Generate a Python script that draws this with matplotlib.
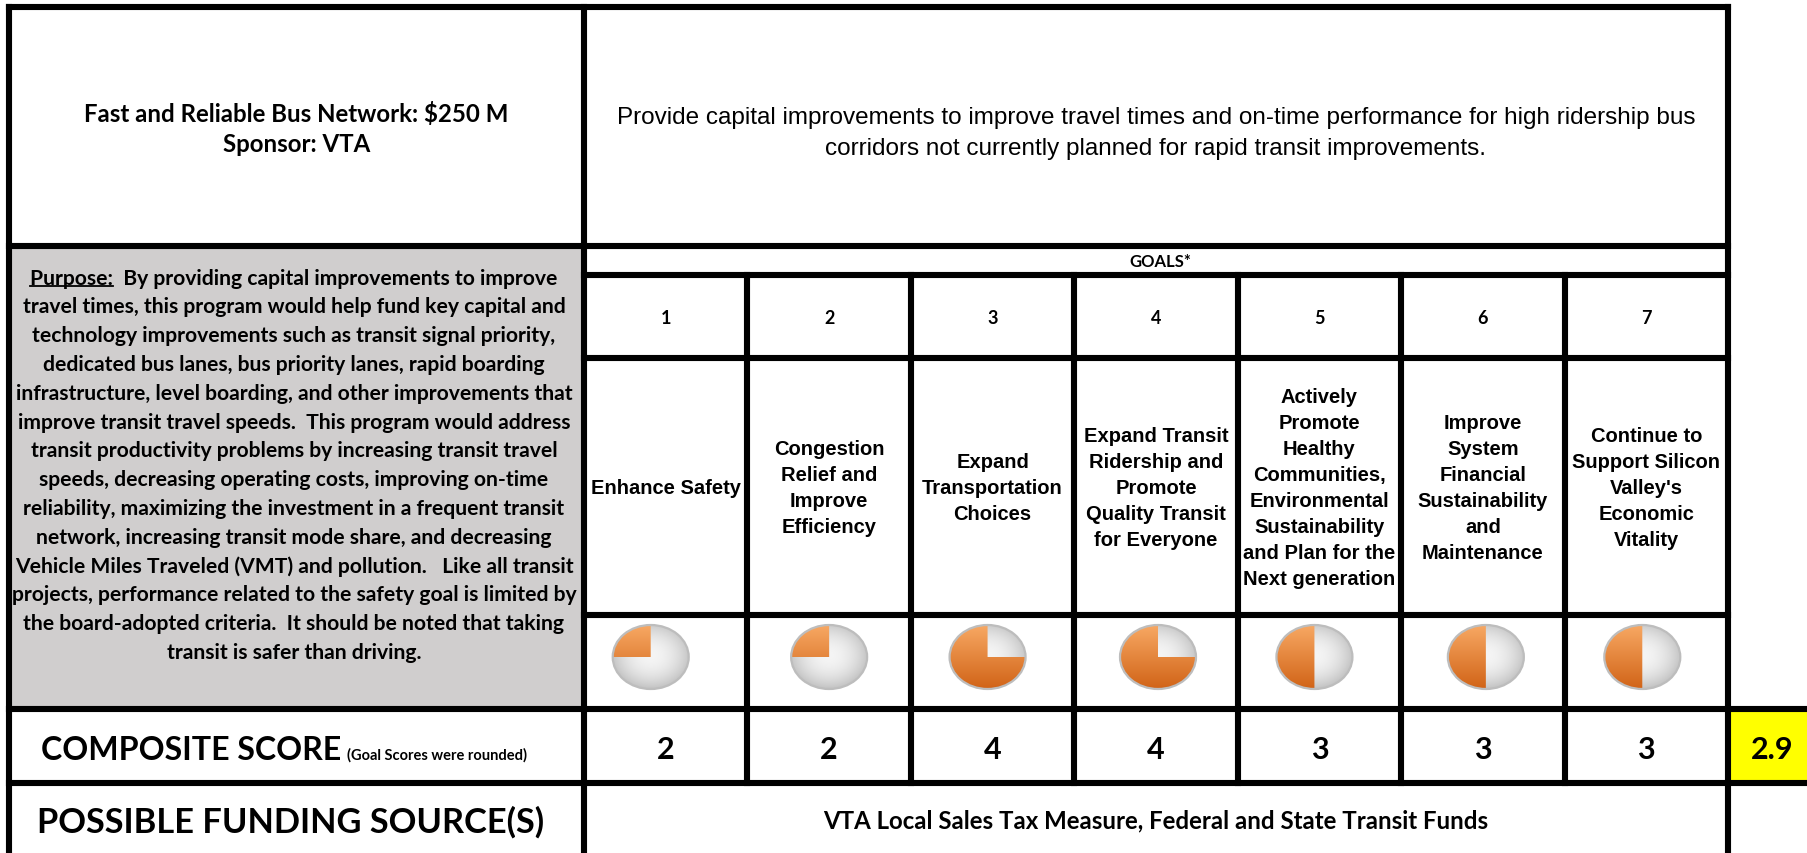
import matplotlib
matplotlib.use("Agg")
import matplotlib.pyplot as plt
import numpy as np
from matplotlib.patches import Rectangle, Polygon, Ellipse

# ---- content ----
title_lines = ["Fast and Reliable Bus Network: $250 M", "Sponsor: VTA"]
description_lines = [
    "Provide capital improvements to improve travel times and on-time performance for high ridership bus",
    "corridors not currently planned for rapid transit improvements.",
]
purpose_lines = [
    "Purpose:  By providing capital improvements to improve",
    "travel times, this program would help fund key capital and",
    "technology improvements such as transit signal priority,",
    "dedicated bus lanes, bus priority lanes, rapid boarding",
    "infrastructure, level boarding, and other improvements that",
    "improve transit travel speeds.  This program would address",
    "transit productivity problems by increasing transit travel",
    "speeds, decreasing operating costs, improving on-time",
    "reliability, maximizing the investment in a frequent transit",
    "network, increasing transit mode share, and decreasing",
    "Vehicle Miles Traveled (VMT) and pollution.   Like all transit",
    "projects, performance related to the safety goal is limited by",
    "the board-adopted criteria.  It should be noted that taking",
    "transit is safer than driving.",
]
goal_numbers = ["1", "2", "3", "4", "5", "6", "7"]
goal_labels = [
    "Enhance Safety",
    "Congestion\nRelief and\nImprove\nEfficiency",
    "Expand\nTransportation\nChoices",
    "Expand Transit\nRidership and\nPromote\nQuality Transit\nfor Everyone",
    "Actively\nPromote\nHealthy\nCommunities,\nEnvironmental\nSustainability\nand Plan for the\nNext generation",
    "Improve\nSystem\nFinancial\nSustainability\nand\nMaintenance",
    "Continue to\nSupport Silicon\nValley's\nEconomic\nVitality",
]
goal_scores = [2, 2, 4, 4, 3, 3, 3]
pie_fill = [0.25, 0.25, 0.75, 0.75, 0.5, 0.5, 0.5]
composite_score = 2.9
funding_text = "VTA Local Sales Tax Measure, Federal and State Transit Funds"

# ---- layout (pixels) ----
W, H = 1808, 854
x_left, x_mid, x_right = 9, 584, 1728
y_top, y_sec, y_goals, y_nums, y_labels, y_pies, y_comp = 8, 247, 275.5, 358.5, 616, 710, 784
col_edges = np.linspace(x_mid, x_right, 8)
col_centers = (col_edges[:-1] + col_edges[1:]) / 2
pie_shift = [-15, 0, -5, 2, -5, 3, -4]
LW = 4.4
CAL = "Lato"
ARIAL = "Liberation Sans"

fig = plt.figure(figsize=(W / 100, H / 100), dpi=100)
ax = fig.add_axes([0, 0, 1, 1])
ax.set_xlim(0, W)
ax.set_ylim(H, 0)
ax.axis("off")
renderer = fig.canvas.get_renderer()


def px(fs):
    return fs * 100 / 72


def text_width(s, fs, family, weight):
    t = ax.text(0, 0, s, fontsize=fs, family=family, weight=weight)
    w = t.get_window_extent(renderer).width
    t.remove()
    return w


def put(x, yc, s, fs, family=CAL, weight="bold", ha="center"):
    # yc is the visual middle of the capital letters
    return ax.text(x, yc + 0.36 * px(fs), s, fontsize=fs, family=family,
                   weight=weight, ha=ha, va="baseline", color="black", zorder=6)


def fit_size(s, width, family=CAL, weight="bold"):
    return 10 * width / text_width(s, 10, family, weight)


# backgrounds
ax.add_patch(Rectangle((x_left, y_sec), x_mid - x_left, y_pies - y_sec,
                       facecolor="#d0cece", edgecolor="none", zorder=1))
ax.add_patch(Rectangle((x_right, y_pies), W - x_right, y_comp - y_pies,
                       facecolor="#ffff00", edgecolor="none", zorder=1))


def hline(y, x0, x1):
    ax.plot([x0, x1], [y, y], color="black", lw=LW, solid_capstyle="projecting", zorder=5)


def vline(x, y0, y1):
    ax.plot([x, x], [y0, y1], color="black", lw=LW, solid_capstyle="projecting", zorder=5)


hline(y_top, x_left, x_right)
hline(y_sec, x_left, x_right)
for y in (y_goals, y_nums, y_labels):
    hline(y, x_mid, x_right)
hline(y_pies, x_left, W + 5)
hline(y_comp, x_left, W + 5)
vline(x_left, y_top, H + 5)
vline(x_mid, y_top, H + 5)
vline(x_right, y_top, H + 5)
for x in col_edges[1:-1]:
    vline(x, y_goals, y_comp)

# title cell
fs = fit_size(title_lines[0], 426)
put((x_left + x_mid) / 2, 113, title_lines[0], fs)
put((x_left + x_mid) / 2, 143, title_lines[1], fs)

# description cell
fs = fit_size(description_lines[0], 1084, ARIAL, "normal")
put((x_mid + x_right) / 2, 115, description_lines[0], fs, ARIAL, "normal")
put((x_mid + x_right) / 2, 146, description_lines[1], fs, ARIAL, "normal")

# purpose
longest = max(purpose_lines, key=lambda s: text_width(s, 10, CAL, "bold"))
fs = fit_size(longest, 568)
pcx = 294
for i, line in enumerate(purpose_lines):
    t = put(pcx, 277 + i * 28.8, line, fs)
    if i == 0:
        bb = t.get_window_extent(renderer)
        wp = text_width("Purpose:", fs, CAL, "bold")
        yb = 277 + 0.36 * px(fs) + 0.12 * px(fs)
        ax.plot([bb.x0, bb.x0 + wp], [yb, yb], color="black", lw=1.3, zorder=6)

# goals header and numbers
put((x_mid + x_right) / 2 + 4, 261, "GOALS*", 12)
for x, n in zip(col_centers, goal_numbers):
    put(x, 318, n, 13)

# goal labels
for x, lab in zip(col_centers, goal_labels):
    lines = lab.split("\n")
    mid = (y_nums + y_labels) / 2
    for j, line in enumerate(lines):
        put(x, mid + (j - (len(lines) - 1) / 2) * 26, line, 14.5, ARIAL, "bold")

# harvey-ball pies
n = 120
yy, xx = np.mgrid[-1:1:n * 1j, -1:1:n * 1j]
rr = np.sqrt(xx ** 2 + (yy + 0.05) ** 2)
g = np.clip(0.96 - 0.18 * rr ** 2, 0, 1)
gray_img = np.dstack([g, g, g])
tt = np.linspace(0, 1, n)[:, None, None] * np.ones((1, n, 1))
top = np.array([0.97, 0.66, 0.39])
bot = np.array([0.82, 0.39, 0.09])
orange_img = top * (1 - tt) + bot * tt

rx, ry = 38, 32
pie_cy = 658
for x, dx, f in zip(col_centers, pie_shift, pie_fill):
    cx = x + dx
    ext = (cx - rx, cx + rx, pie_cy + ry, pie_cy - ry)
    ell = Ellipse((cx, pie_cy), 2 * rx, 2 * ry, facecolor="none", edgecolor="none",
                  transform=ax.transData)
    ax.add_patch(ell)
    im = ax.imshow(gray_img, extent=ext, aspect="auto", zorder=3, interpolation="bilinear")
    im.set_clip_path(ell)
    if f > 0:
        th = np.radians(np.linspace(90, 90 + 360 * f, 100))
        pts = np.column_stack([cx + rx * np.cos(th), pie_cy - ry * np.sin(th)])
        pts = np.vstack([[cx, pie_cy], pts])
        wedge = Polygon(pts, closed=True, facecolor="none", edgecolor="none",
                        transform=ax.transData)
        ax.add_patch(wedge)
        im2 = ax.imshow(orange_img, extent=ext, aspect="auto", zorder=3.5,
                        interpolation="bilinear")
        im2.set_clip_path(wedge)
    ax.add_patch(Ellipse((cx, pie_cy), 2 * rx, 2 * ry, fill=False,
                         edgecolor="#bdbdbd", lw=1.6, zorder=4))

# composite row
comp_y = 748
fs_big = fit_size("COMPOSITE SCORE", 299)
t = put(41, comp_y, "COMPOSITE SCORE", fs_big, ha="left")
bb = t.get_window_extent(renderer)
fs_small = fit_size("(Goal Scores were rounded)", 180)
ax.text(bb.x1 + 6, comp_y + 0.36 * px(fs_big), "(Goal Scores were rounded)",
        fontsize=fs_small, family=CAL, weight="bold", ha="left", va="baseline", zorder=6)
for x, s in zip(col_centers, goal_scores):
    put(x, comp_y, str(s), 22)
put((x_right + W) / 2 + 4, comp_y, f"{composite_score:.1f}", 22)

# funding row
put(291, 820, "POSSIBLE FUNDING SOURCE(S)", fit_size("POSSIBLE FUNDING SOURCE(S)", 508))
put((x_mid + x_right) / 2, 820, funding_text, fit_size(funding_text, 665))

ax.set_xlim(0, W)
ax.set_ylim(H, 0)
fig.savefig("out.png", dpi=100)
